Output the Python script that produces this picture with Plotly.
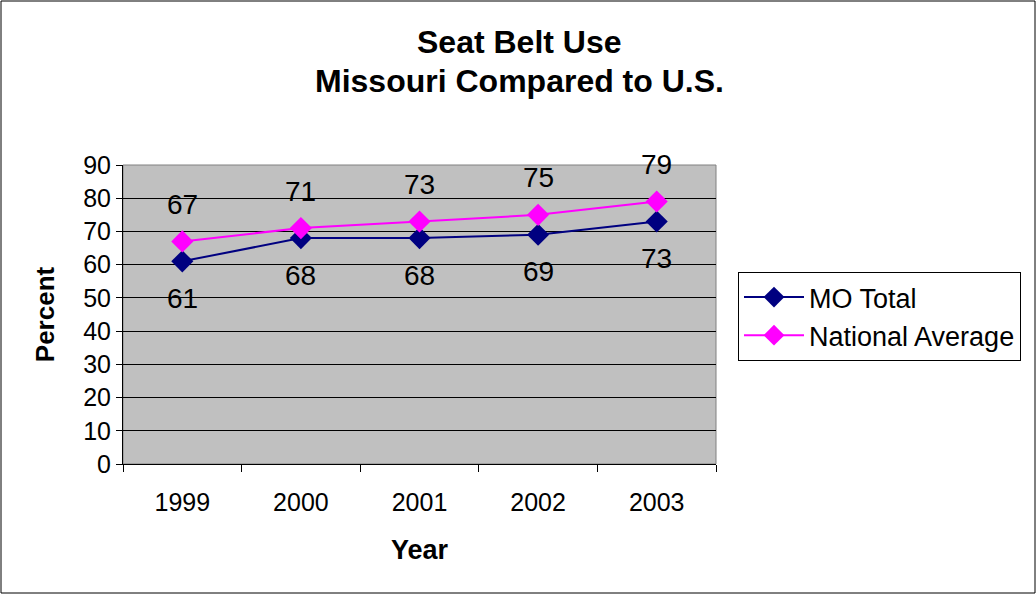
import plotly.graph_objects as go

years = ["1999", "2000", "2001", "2002", "2003"]
mo_total = [61, 68, 68, 69, 73]
national_avg = [67, 71, 73, 75, 79]

FONT = "Arial, Liberation Sans, sans-serif"
L, R, T, B = 123, 320, 165, 130
W, H = 1036, 594
pw, ph = W - L - R, H - T - B

fig = go.Figure()
fig.add_trace(go.Scatter(x=years, y=mo_total, name="MO Total", mode="lines+markers",
                         line=dict(color="#000080", width=2),
                         marker=dict(symbol="diamond", size=17, color="#000080")))
fig.add_trace(go.Scatter(x=years, y=national_avg, name="National Average", mode="lines+markers",
                         line=dict(color="#FF00FF", width=2),
                         marker=dict(symbol="diamond", size=17, color="#FF00FF")))

ann = []
for i, y in enumerate(mo_total):
    ann.append(dict(x=i, y=y, text=str(y), showarrow=False, yshift=-37,
                    font=dict(size=28, color="black", family=FONT)))
for i, y in enumerate(national_avg):
    ann.append(dict(x=i, y=y, text=str(y), showarrow=False, yshift=37,
                    font=dict(size=28, color="black", family=FONT)))
ann.append(dict(xref="paper", yref="paper", x=(W / 2 + 1 - L) / pw, y=(H - 42 - B) / ph,
                text="<b>Seat Belt Use</b>", showarrow=False, xanchor="center", yanchor="middle",
                font=dict(size=32, color="black", family=FONT)))
ann.append(dict(xref="paper", yref="paper", x=(W / 2 + 1 - L) / pw, y=(H - 81 - B) / ph,
                text="<b>Missouri Compared to U.S.</b>", showarrow=False, xanchor="center", yanchor="middle",
                font=dict(size=32, color="black", family=FONT)))

fig.update_layout(
    width=W, height=H,
    margin=dict(l=L, r=R, t=T, b=B),
    paper_bgcolor="white", plot_bgcolor="#C0C0C0",
    font=dict(family=FONT, color="black", size=24),
    showlegend=True,
    legend=dict(x=(738 - L) / pw, y=(464 - 272) / ph, xanchor="left", yanchor="top",
                bordercolor="black", borderwidth=1, bgcolor="white",
                font=dict(size=27, family=FONT), itemwidth=60, tracegroupgap=2),
    annotations=ann,
    shapes=[dict(type="rect", xref="paper", yref="paper",
                 x0=-(L - 1) / pw, x1=1 + (R - 1) / pw, y0=-(B - 1) / ph, y1=1 + (T - 1) / ph,
                 line=dict(color="black", width=1), layer="below"),
            dict(type="rect", xref="paper", yref="paper", x0=0, x1=1, y0=0, y1=1,
                 line=dict(color="#808080", width=1), layer="below")],
)
fig.update_xaxes(type="category", range=[-0.5, 4.5], showline=True, linecolor="black", linewidth=1,
                 ticks="outside", tickson="boundaries", ticklen=7, tickcolor="black",
                 showgrid=False, zeroline=False, ticklabelstandoff=16,
                 title=dict(text="<b>Year</b>", font=dict(size=27, family=FONT), standoff=25),
                 tickfont=dict(size=25, family=FONT))
fig.update_yaxes(range=[0, 90], dtick=10, showline=True, linecolor="black", linewidth=1,
                 ticks="outside", ticklen=6, tickcolor="black",
                 showgrid=True, gridcolor="black", gridwidth=1, zeroline=False,
                 title=dict(text="<b>Percent</b>", font=dict(size=26, family=FONT), standoff=21),
                 tickfont=dict(size=25, family=FONT))

fig.write_html("out.html", config={"displayModeBar": False},
               post_script="document.body.style.margin='0';")
